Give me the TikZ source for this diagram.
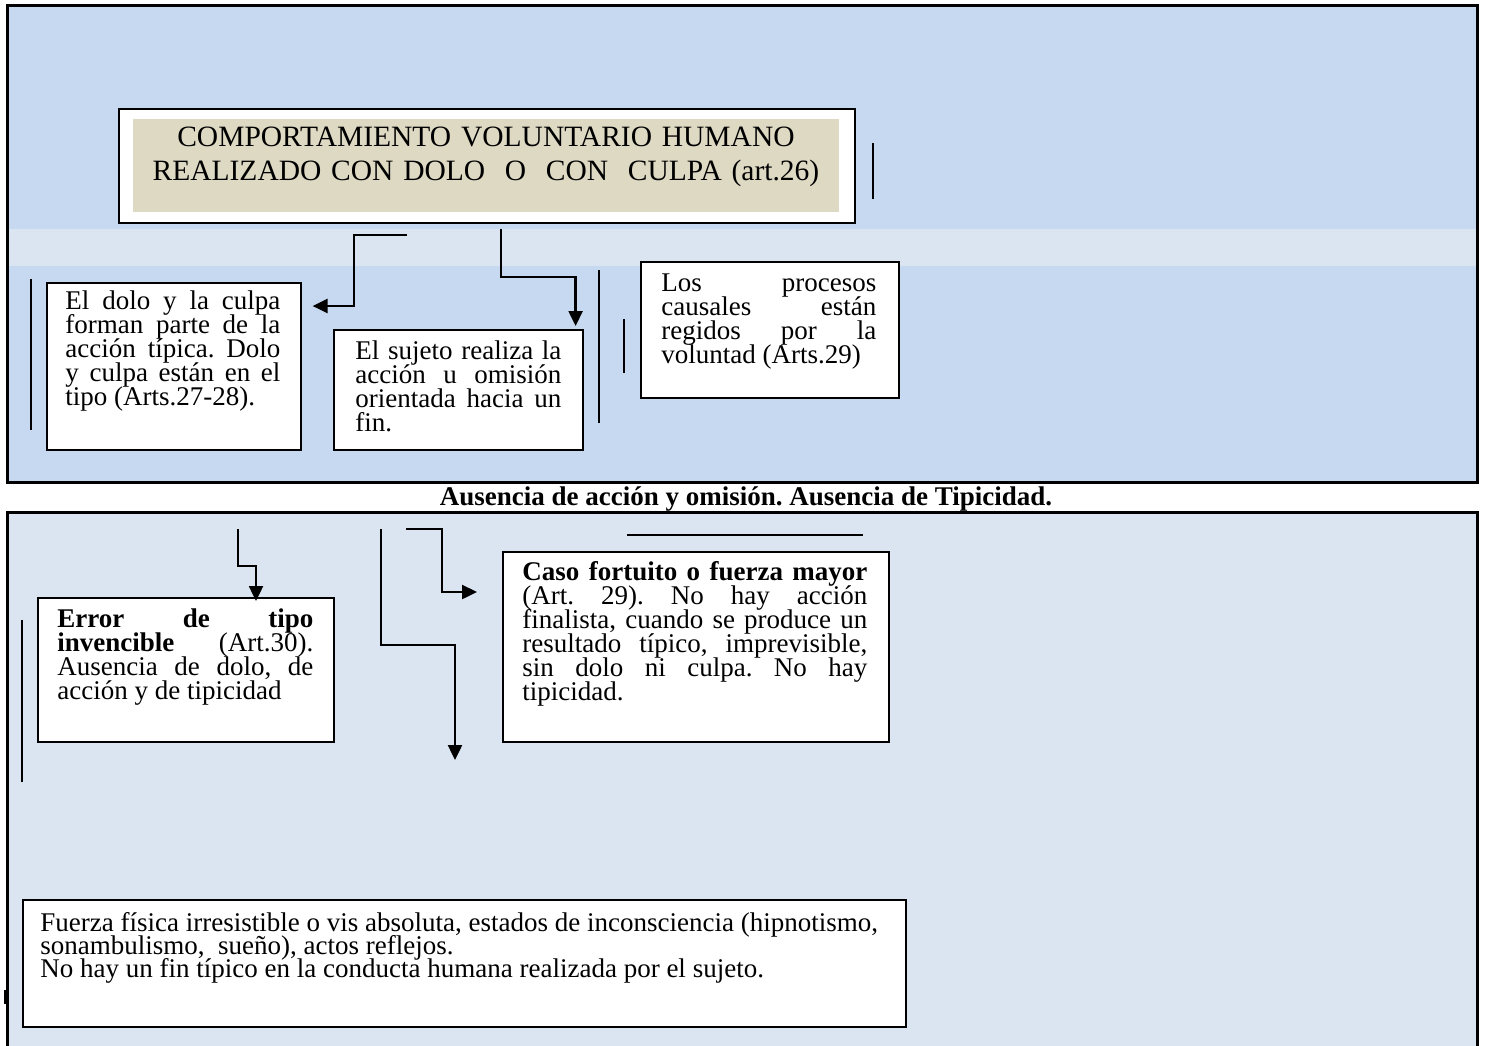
\documentclass[tikz,border=0pt]{standalone}
\usepackage{fontspec}
\setmainfont{Liberation Serif}
\usetikzlibrary{arrows.meta}
\usetikzlibrary{calc,shadows}
\definecolor{azulfuerte}{HTML}{C6D9F1}
\definecolor{azulclaro}{HTML}{DBE5F1}
\definecolor{beige}{HTML}{DDD9C3}
\newcommand\cuerpo{\fontsize{13.5}{12}\selectfont\frenchspacing\lineskiplimit=-20pt\hyphenpenalty=10000\exhyphenpenalty=10000}

\begin{document}
\begin{tikzpicture}[x=0.5pt,y=-0.5pt,
	caja/.style={draw,fill=white,line width=0.8pt,anchor=north west,inner sep=0pt,
		drop shadow={shadow xshift=0.7pt,shadow yshift=-0.7pt,opacity=0.6,fill=black!70}},
	texto/.style={anchor=base west,inner sep=0pt,align=justify,font=\cuerpo},
	flecha/.style={-{Triangle[length=7.5pt,width=7pt]},line width=1.2pt},
	raya/.style={line width=0.9pt},
	]
	\useasboundingbox (0,0) rectangle (1486,1045);

	% paneles de fondo
	\fill[azulfuerte] (7,5) rectangle (1477,482);
	\fill[azulclaro] (7,229) rectangle (1477,266);
	\draw[line width=1.5pt] (7,5) rectangle (1477,482);
	\fill[azulclaro] (7,512) rectangle (1477,1046);
	\draw[line width=1.5pt] (7,1046) -- (7,512) -- (1477,512) -- (1477,1046);

	\node[caja,minimum width=368pt,minimum height=57pt,line width=1pt] (titulo) at (118,108) {};
	\node[anchor=north west,fill=beige,minimum width=353pt,minimum height=46.5pt,inner sep=0pt] (fondo) at (133,119) {};
	\node[anchor=base,align=center,text width=353pt,inner sep=0pt,font=\fontsize{14.75}{17}\selectfont] (tituloTxt) at (486,146) {COMPORTAMIENTO VOLUNTARIO HUMANO\\REALIZADO CON DOLO\ \ O\ \ CON\ \ CULPA (art.26)};

	\node[caja,minimum width=127pt,minimum height=83.5pt] (dolo) at (46,282) {};
	\node[texto,text width=107.5pt] (doloTxt) at (65,309) {El dolo y la culpa\linebreak forman parte de la\linebreak acción típica. Dolo\linebreak y culpa están en el\linebreak tipo (Arts.27-28).};

	\node[caja,minimum width=124.5pt,minimum height=60pt] (sujeto) at (333,329) {};
	\node[texto,text width=103pt] (sujetoTxt) at (355,359) {El sujeto realiza la\linebreak acción u omisión\linebreak orientada hacia un\linebreak fin.};

	\node[caja,minimum width=129pt,minimum height=68pt] (procesos) at (640,261) {};
	\node[texto,text width=107.5pt] (procesosTxt) at (661,291) {Los procesos\linebreak causales están\linebreak regidos por la\linebreak voluntad (Arts.29)};

	\node[anchor=base,inner sep=0pt,font=\cuerpo\bfseries] (leyenda) at (746,505) {Ausencia de acción y omisión. Ausencia de Tipicidad.};

	\node[caja,minimum width=148pt,minimum height=72pt] (error) at (37,597) {};
	\node[texto,text width=128pt] (errorTxt) at (57,627) {\textbf{Error de tipo}\linebreak \textbf{invencible} (Art.30).\linebreak Ausencia de dolo, de\linebreak acción y de tipicidad};

	\node[caja,minimum width=193pt,minimum height=95pt] (caso) at (502,551) {};
	\node[texto,text width=172.5pt] (casoTxt) at (522,580) {\textbf{Caso fortuito o fuerza mayor}\linebreak (Art. 29). No hay acción\linebreak finalista, cuando se produce un\linebreak resultado típico, imprevisible,\linebreak sin dolo ni culpa. No hay\linebreak tipicidad.};

	\node[caja,minimum width=441.5pt,minimum height=63.5pt] (fuerza) at (22,899) {};
	\node[anchor=base west,inner sep=0pt,align=left,font=\cuerpo\fontsize{13.5}{11.5}\selectfont] (fuerzaTxt) at (40,977) {Fuerza física irresistible o vis absoluta, estados de inconsciencia (hipnotismo,\\sonambulismo,\ \ sueño), actos reflejos.\\No hay un fin típico en la conducta humana realizada por el sujeto.};

	% conectores
	\coordinate (ini1) at (407,235);
	\coordinate (fin1) at ($(dolo.north east)+(11,24)$);
	\draw[flecha] (ini1) -- ++(-53,0) |- (fin1);
	\coordinate (ini2) at (501,229);
	\coordinate (fin2) at ($(sujeto.north east)+(-8,-3)$);
	\draw[flecha] (ini2) -- ++(0,48) -| (fin2);
	\coordinate (ini3) at (238,529);
	\coordinate (fin3) at ($(error.north west)+(219,4)$);
	\draw[flecha] (ini3) -- ++(0,37) -| (fin3);
	\coordinate (ini4) at (406,529);
	\coordinate (fin4) at ($(caso.north west)+(-25,41)$);
	\draw[flecha] (ini4) -- ++(36,0) |- (fin4);
	\coordinate (ini5) at (381,529);
	\coordinate (fin5) at (455,760);
	\draw[flecha] (ini5) -- ++(0,116) -| (fin5);

	% rayas sueltas
	\draw[raya] (873,143) -- (873,199);
	\draw[raya] (31,279) -- (31,430);
	\draw[raya] (599,270) -- (599,423);
	\draw[raya] (624,319) -- (624,373);
	\draw[raya] (627,535) -- (863,535);
	\draw[raya] (22,620) -- (22,782);
	\draw[line width=1.5pt] (5,990) -- (5,1004);
\end{tikzpicture}
\end{document}
